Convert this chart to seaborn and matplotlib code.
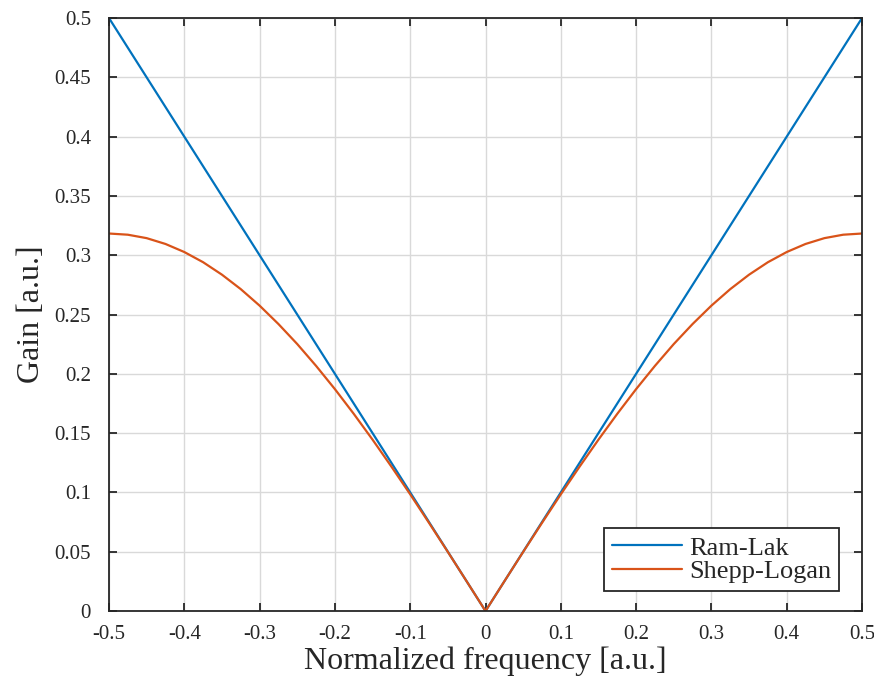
import matplotlib
matplotlib.use("Agg")
import matplotlib.pyplot as plt
import seaborn as sns
import pandas as pd

# Normalized frequency samples and filter gains
freq = [-0.5, -0.475, -0.45, -0.425, -0.4, -0.375, -0.35, -0.325, -0.3, -0.275,
        -0.25, -0.225, -0.2, -0.175, -0.15, -0.125, -0.1, -0.075, -0.05, -0.025,
        0.0,
        0.025, 0.05, 0.075, 0.1, 0.125, 0.15, 0.175, 0.2, 0.225, 0.25,
        0.275, 0.3, 0.325, 0.35, 0.375, 0.4, 0.425, 0.45, 0.475, 0.5]

ram_lak = [0.5, 0.475, 0.45, 0.425, 0.4, 0.375, 0.35, 0.325, 0.3, 0.275,
           0.25, 0.225, 0.2, 0.175, 0.15, 0.125, 0.1, 0.075, 0.05, 0.025,
           0.0,
           0.025, 0.05, 0.075, 0.1, 0.125, 0.15, 0.175, 0.2, 0.225, 0.25,
           0.275, 0.3, 0.325, 0.35, 0.375, 0.4, 0.425, 0.45, 0.475, 0.5]

shepp_logan = [0.3183, 0.3173, 0.3144, 0.3095, 0.3027, 0.2941, 0.2836, 0.2714, 0.2575, 0.2420,
               0.2251, 0.2067, 0.1871, 0.1663, 0.1445, 0.1218, 0.0984, 0.0743, 0.0498, 0.0250,
               0.0,
               0.0250, 0.0498, 0.0743, 0.0984, 0.1218, 0.1445, 0.1663, 0.1871, 0.2067, 0.2251,
               0.2420, 0.2575, 0.2714, 0.2836, 0.2941, 0.3027, 0.3095, 0.3144, 0.3173, 0.3183]

series_names = ["Ram-Lak", "Shepp-Logan"]
series_colors = ["#0072BD", "#D95319"]

x_ticks = [-0.5, -0.4, -0.3, -0.2, -0.1, 0, 0.1, 0.2, 0.3, 0.4, 0.5]
x_tick_labels = ["-0.5", "-0.4", "-0.3", "-0.2", "-0.1", "0", "0.1", "0.2", "0.3", "0.4", "0.5"]
y_ticks = [0, 0.05, 0.1, 0.15, 0.2, 0.25, 0.3, 0.35, 0.4, 0.45, 0.5]
y_tick_labels = ["0", "0.05", "0.1", "0.15", "0.2", "0.25", "0.3", "0.35", "0.4", "0.45", "0.5"]

df = pd.DataFrame({
    "freq": freq * 2,
    "gain": ram_lak + shepp_logan,
    "filter": [series_names[0]] * len(freq) + [series_names[1]] * len(freq),
})

sns.set_style("white")
plt.rcParams["font.family"] = ["Liberation Serif", "DejaVu Serif"]
plt.rcParams["axes.unicode_minus"] = False

fig = plt.figure(figsize=(8.74, 6.83), dpi=100)
ax = fig.add_axes([0.1247, 0.1054, 0.8616, 0.8682])

sns.lineplot(data=df, x="freq", y="gain", hue="filter", hue_order=series_names,
             palette=series_colors, linewidth=1.6, ax=ax, sort=False,
             estimator=None)

ax.set_xlim(-0.5, 0.5)
ax.set_ylim(0, 0.5)
ax.set_xticks(x_ticks)
ax.set_xticklabels(x_tick_labels)
ax.set_yticks(y_ticks)
ax.set_yticklabels(y_tick_labels)

ax.grid(True, color="#d9d9d9", linewidth=1.0)
ax.set_axisbelow(True)
for s in ax.spines.values():
    s.set_visible(True)
    s.set_color("#262626")
    s.set_linewidth(1.3)

ax.tick_params(axis="both", which="both", direction="in", length=6, width=1.3,
               color="#262626", labelsize=15, labelcolor="#262626",
               top=True, right=True, bottom=True, left=True)
ax.tick_params(axis="x", pad=10)
ax.tick_params(axis="y", pad=13)

ax.set_xlabel("Normalized frequency [a.u.]", fontsize=23, color="#262626", labelpad=2)
ax.set_ylabel("Gain [a.u.]", fontsize=23, color="#262626", labelpad=6)

leg = ax.legend(loc="lower right", bbox_to_anchor=(0.9695, 0.0337), fontsize=19,
                frameon=True, fancybox=False, framealpha=1, edgecolor="#262626",
                borderpad=0.3, handlelength=2.65, handletextpad=0.27,
                labelspacing=0.0, borderaxespad=0)
leg.get_frame().set_linewidth(1.3)

fig.savefig("out.png", dpi=100)
